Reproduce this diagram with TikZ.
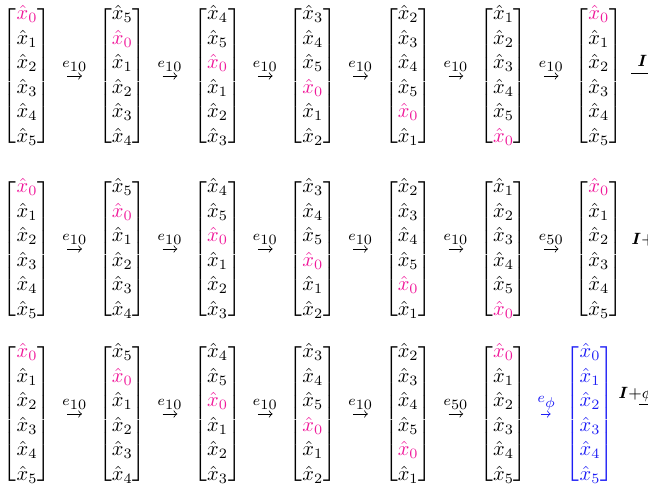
\documentclass[tikz,border=0pt]{standalone}
\usepackage{amsmath}
\usepackage{xcolor}
\usepackage{tikz}
\definecolor{hot}{HTML}{F0189A}
\definecolor{phiblue}{HTML}{1E1EF5}
\delimitershortfall=8pt

\newcommand{\xh}[1]{\ifnum#1=0 \textcolor{hot}{\hat{x}_0}\else\hat{x}_{#1}\fi}
\newcommand{\colvec}[6]{\begin{bmatrix}\xh{#1}\\\xh{#2}\\\xh{#3}\\\xh{#4}\\\xh{#5}\\\xh{#6}\end{bmatrix}}
\newcommand{\rotcol}[1]{\ifcase#1\relax
  \colvec{0}{1}{2}{3}{4}{5}\or\colvec{5}{0}{1}{2}{3}{4}\or
  \colvec{4}{5}{0}{1}{2}{3}\or\colvec{3}{4}{5}{0}{1}{2}\or
  \colvec{2}{3}{4}{5}{0}{1}\or\colvec{1}{2}{3}{4}{5}{0}\fi}

\begin{document}
\begin{tikzpicture}[x=0.49pt,y=-0.49pt,
  vec/.style={inner sep=0pt,outer sep=0pt},
  arr/.style={-to,line width=0.4pt,shorten <=8pt,shorten >=8pt},
  lab/.style={above=0.8pt,inner sep=1pt,font=\scriptsize},
  tail/.style={anchor=west,inner sep=0pt,font=\footnotesize}]
\useasboundingbox (0,0) rectangle (648,491);
\clip (0,0) rectangle (648,491);
% the shifted vectors
\foreach \r/\y/\ks in {1/76/{0,1,2,3,4,5,0}, 2/249/{0,1,2,3,4,5,0}, 3/414/{0,1,2,3,4,0}}{
  \foreach \k [count=\c] in \ks
    \node[vec] (m\r-\c) at ({27+95.3*(\c-1)},\y) {$\rotcol{\k}$};
}
\node[vec,text=phiblue] (b3) at (590,414)
  {$\begin{bmatrix}\hat{x}_0\\\hat{x}_1\\\hat{x}_2\\\hat{x}_3\\\hat{x}_4\\\hat{x}_5\end{bmatrix}$};
% steps
\foreach \r/\ls in {1/{10,10,10,10,10,10}, 2/{10,10,10,10,10,50}, 3/{10,10,10,10,50}}{
  \foreach \l [count=\c] in \ls {
    \pgfmathtruncatemacro{\n}{\c+1}
    \draw[arr] (m\r-\c) -- node[lab]{$e_{\textstyle\l}$} (m\r-\n);
  }
}
\draw[arr,phiblue,shorten <=6.5pt,shorten >=7.5pt] (m3-6) -- node[lab]{$e_{\textstyle\phi}$} (b3);
% cut off at the right
\node[tail] (t1) at (637,62) {$\boldsymbol{I}{+}\phi$};
\node[tail] (t2) at (631,240) {$\boldsymbol{I}{+}\phi$};
\node[tail] (t3) at (618,394) {$\boldsymbol{I}{+}\phi$};
\coordinate (s1) at (631,73);
\coordinate (e1) at (700,73);
\coordinate (s3) at (639,404);
\coordinate (e3) at (700,404);
\draw[line width=0.4pt] (s1) -- (e1);
\draw[line width=0.4pt] (s3) -- (e3);
\end{tikzpicture}
\end{document}
